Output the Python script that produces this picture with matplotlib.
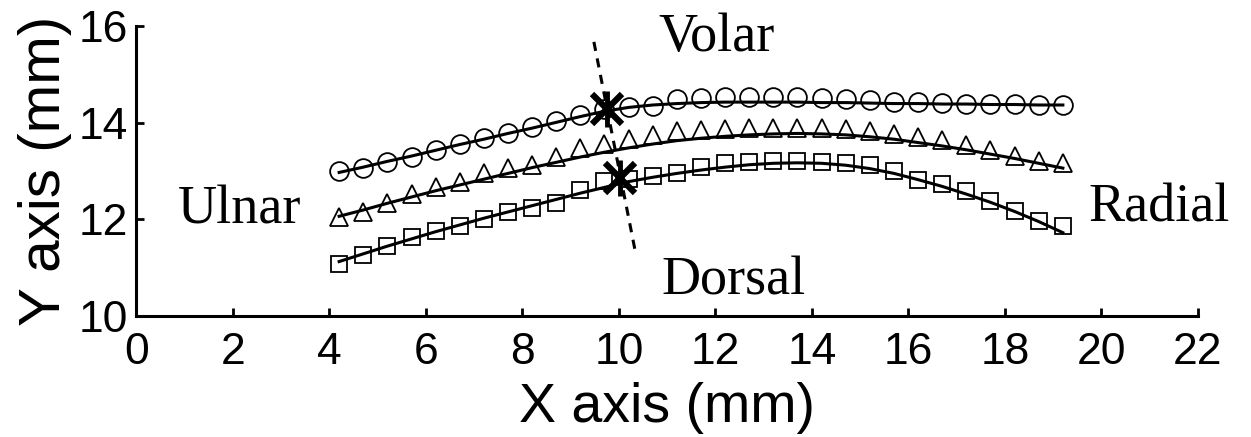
import matplotlib
matplotlib.use("Agg")
import matplotlib.pyplot as plt
from matplotlib import font_manager

# ---- data ----
x_pos = [4.2, 4.7, 5.2, 5.7, 6.2, 6.7, 7.2, 7.7, 8.2, 8.7, 9.2, 9.7, 10.2, 10.7, 11.2, 11.7,
         12.2, 12.7, 13.2, 13.7, 14.2, 14.7, 15.2, 15.7, 16.2, 16.7, 17.2, 17.7, 18.2, 18.7, 19.2]

volar_pts = [12.99, 13.07, 13.18, 13.30, 13.43, 13.57, 13.68, 13.79, 13.91, 14.03, 14.16, 14.28,
             14.33, 14.35, 14.50, 14.52, 14.53, 14.54, 14.54, 14.53, 14.52, 14.50, 14.47, 14.44,
             14.43, 14.42, 14.40, 14.39, 14.39, 14.38, 14.38]
volar_fit = [12.97, 13.08, 13.20, 13.31, 13.43, 13.55, 13.66, 13.78, 13.89, 14.01, 14.13, 14.24,
             14.32, 14.37, 14.40, 14.42, 14.43, 14.43, 14.43, 14.43, 14.42, 14.42, 14.41, 14.40,
             14.40, 14.39, 14.39, 14.38, 14.38, 14.37, 14.37]

mid_pts = [12.05, 12.15, 12.34, 12.52, 12.66, 12.78, 12.95, 13.06, 13.13, 13.30, 13.47, 13.57,
           13.66, 13.74, 13.82, 13.86, 13.88, 13.90, 13.90, 13.90, 13.89, 13.87, 13.83, 13.77,
           13.71, 13.64, 13.54, 13.43, 13.31, 13.21, 13.16]
mid_fit = [12.06, 12.19, 12.33, 12.46, 12.59, 12.71, 12.83, 12.95, 13.07, 13.18, 13.29, 13.39,
           13.48, 13.56, 13.63, 13.68, 13.72, 13.75, 13.77, 13.78, 13.77, 13.75, 13.71, 13.66,
           13.59, 13.52, 13.44, 13.35, 13.26, 13.16, 13.06]

dorsal_pts = [11.06, 11.25, 11.45, 11.62, 11.76, 11.86, 12.00, 12.14, 12.24, 12.34, 12.61, 12.80,
              12.84, 12.89, 12.95, 13.09, 13.16, 13.19, 13.21, 13.21, 13.19, 13.17, 13.12, 12.99,
              12.82, 12.72, 12.58, 12.38, 12.17, 11.97, 11.86]
dorsal_fit = [11.12, 11.28, 11.44, 11.59, 11.74, 11.88, 12.02, 12.15, 12.28, 12.41, 12.54, 12.66,
              12.78, 12.87, 12.95, 13.02, 13.08, 13.13, 13.16, 13.17, 13.16, 13.12, 13.05, 12.95,
              12.82, 12.68, 12.52, 12.35, 12.16, 11.95, 11.72]

centre_x = [9.75, 10.03]
centre_y = [14.28, 12.85]

axis_x = [9.48, 10.34]
axis_y = [15.68, 11.32]

x_ticks = [0, 2, 4, 6, 8, 10, 12, 14, 16, 18, 20, 22]
y_ticks = [10, 12, 14, 16]

direction_labels = ["Ulnar", "Radial", "Volar", "Dorsal"]
direction_x = [2.13, 21.2, 12.03, 12.38]
direction_y = [11.90, 11.95, 15.49, 10.43]

# ---- fonts ----
installed = {f.name for f in font_manager.fontManager.ttflist}
tick_family = "Liberation Sans Narrow" if "Liberation Sans Narrow" in installed else "Liberation Sans"

fig = plt.figure(figsize=(12.51, 4.37), dpi=100)
ax = fig.add_axes([0.1091, 0.278, 0.8485, 0.6614])

mk = dict(linestyle="none", markerfacecolor="none", markeredgecolor="black", markeredgewidth=1.3)
ax.plot(x_pos, volar_pts, marker="o", markersize=13.5, **mk)
ax.plot(x_pos, mid_pts, marker="^", markersize=13, **mk)
ax.plot(x_pos, dorsal_pts, marker="s", markersize=11.5, **mk)

for fit in (volar_fit, mid_fit, dorsal_fit):
    ax.plot(x_pos, fit, color="black", linewidth=2.2)

ax.plot(axis_x, axis_y, color="black", linewidth=2.2, linestyle=(0, (3, 2.5)))
ax.plot(centre_x, centre_y, linestyle="none", marker="x", markersize=22,
        markeredgewidth=4.5, color="black")
ax.plot(centre_x, centre_y, linestyle="none", marker="|", markersize=26,
        markeredgewidth=3.5, color="black")

for t, tx, ty in zip(direction_labels, direction_x, direction_y):
    ax.text(tx, ty, t, ha="center", va="baseline", fontsize=39,
            family="Liberation Serif", color="black")

ax.set_xlim(0, 22)
ax.set_ylim(10, 16)
ax.set_xticks(x_ticks)
ax.set_yticks(y_ticks)
ax.set_xticklabels([str(v) for v in x_ticks], family=tick_family, fontsize=32)
ax.set_yticklabels([str(v) for v in y_ticks], family=tick_family, fontsize=32)
ax.tick_params(direction="in", length=6, width=2)
ax.tick_params(axis="x", pad=12)
ax.tick_params(axis="y", pad=6)

for s in ("top", "right"):
    ax.spines[s].set_visible(False)
for s in ("left", "bottom"):
    ax.spines[s].set_linewidth(2.2)

ax.set_xlabel("X axis (mm)", family="Liberation Sans", fontsize=40, labelpad=6)
ax.set_ylabel("Y axis (mm)", family="Liberation Sans", fontsize=42, labelpad=5)

fig.savefig("out.png", dpi=100)
